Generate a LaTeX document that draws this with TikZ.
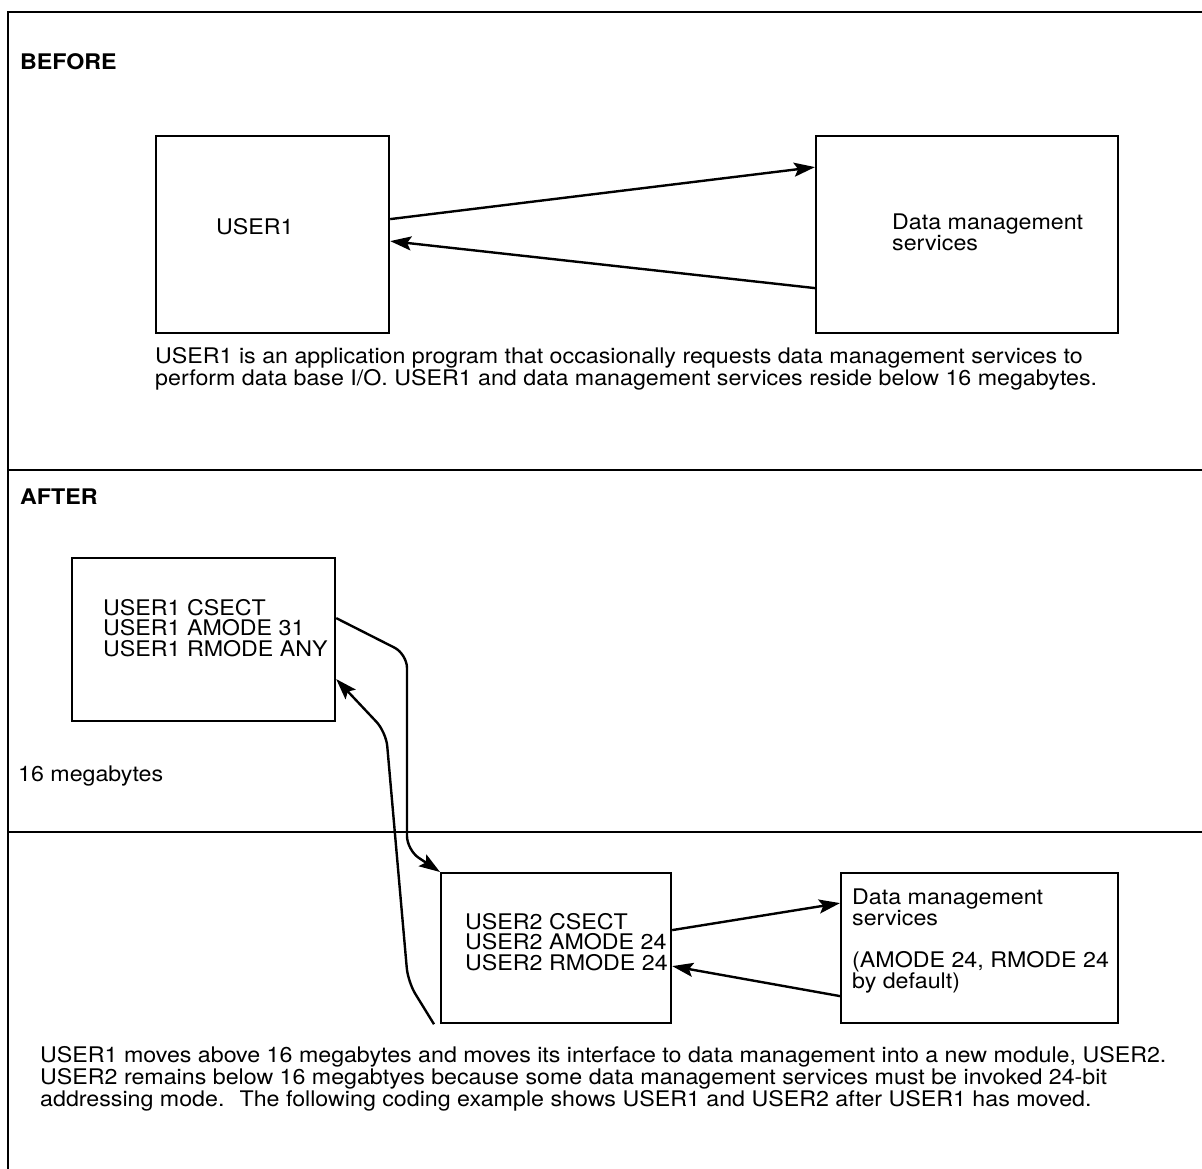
\documentclass[tikz,border=0pt]{standalone}
\usepackage{fontspec}
\setmainfont{TeX Gyre Heros}[FakeStretch=1.08]
\usetikzlibrary{positioning}
\usetikzlibrary{arrows.meta}
\newcommand{\textsz}{\fontsize{21.5}{20.7}\selectfont}
\tikzset{
    common/.style={draw, line width=2.2pt, rectangle, inner sep=0pt},
    box/.style={common, anchor=north west},
    label/.style={anchor=west, inner sep=0pt, font=\textsz, align=left},
    heading/.style={label, font=\textsz\bfseries},
    link/.style={line width=2.4pt, -{Stealth[length=21pt,width=14pt,inset=4pt]}},
    rule/.style={line width=2.4pt},
}
\begin{document}
\begin{tikzpicture}[x=1pt, y=-1pt]
\useasboundingbox (0,0) rectangle (1202,1169);
% frame and dividers
\draw[rule] (1202,12) -- (8,12) -- (8,1169);
\draw[rule] (8,470) -- (1202,470);
\draw[rule] (8,832) -- (1202,832);
% before
\node[heading] (before) at (20,62) {BEFORE};
\node[box, minimum width=233pt, minimum height=197pt] (user1) at (155,135) {};
\node[box, minimum width=302pt, minimum height=197pt] (dms) at (815,135) {};
\node[label] (user1txt) at (216,227) {USER1};
\node[label] (dmstxt) at (892,232) {Data management\\services};
\draw[link] ([yshift=15.5pt]user1.east) -- ([yshift=67.5pt]dms.west);
\draw[link] ([yshift=-53.5pt]dms.west) -- ([yshift=-6.5pt]user1.east);
\node[label] (beforenote) at (155,369) {USER1 is an application program that occasionally requests data management services to\\perform data base I/O. USER1 and data management services reside below 16 megabytes.};
% after
\node[heading] (after) at (20,497) {AFTER};
\node[box, minimum width=263pt, minimum height=163pt] (user1a) at (71,557) {};
\node[label] (user1atxt) at (103,628) {USER1 CSECT\\USER1 AMODE 31\\USER1 RMODE ANY};
\node[label] (mark16) at (18,776) {16 megabytes};
\node[box, minimum width=230pt, minimum height=150pt] (user2) at (440,872) {};
\node[label] (user2txt) at (465,942) {USER2 CSECT\\USER2 AMODE 24\\USER2 RMODE 24};
\node[box, minimum width=277pt, minimum height=150pt] (dms2) at (840,872) {};
\node[label] (dms2txt) at (852,941) {Data management\\services\\[21pt](AMODE 24, RMODE 24\\by default)};
\draw[link, rounded corners=14pt] ([yshift=21.5pt]user1a.east) -- (407,654) -- (407,850) -- (user2.north west);
\draw[link, rounded corners=14pt] ([xshift=-6pt]user2.south west) -- (408,982) -- (386,732) -- ([yshift=-39.5pt]user1a.east);
\draw[link] ([yshift=18pt]user2.east) -- ([yshift=45pt]dms2.west);
\draw[link] ([yshift=-48pt]dms2.west) -- ([yshift=-18pt]user2.east);
\node[label] (afternote) at (40,1079) {USER1 moves above 16 megabytes and moves its interface to data management into a new module, USER2.\\USER2 remains below 16 megabtyes because some data management services must be invoked 24-bit\\addressing mode.~ The following coding example shows USER1 and USER2 after USER1 has moved.};
\end{tikzpicture}
\end{document}
